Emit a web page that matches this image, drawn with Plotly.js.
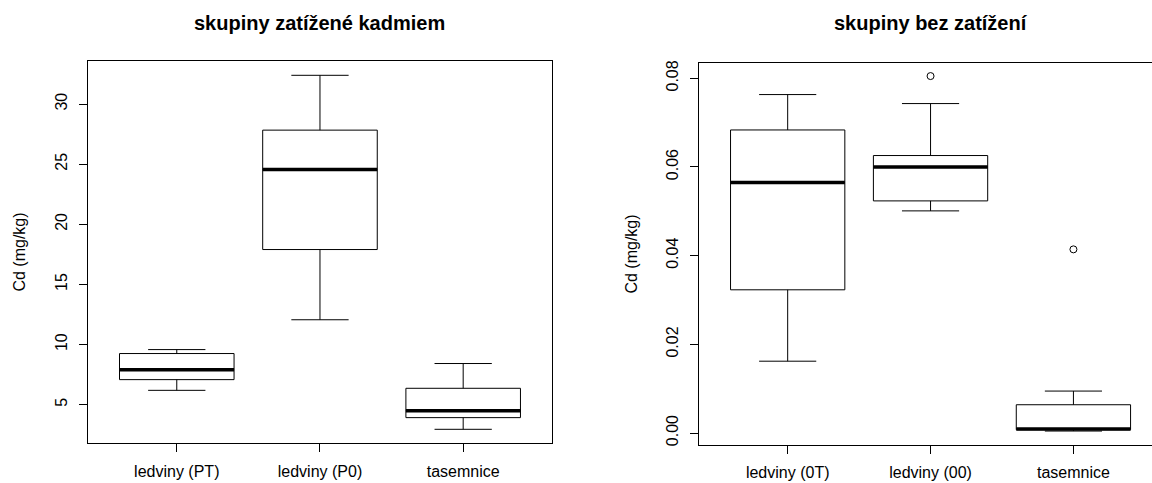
<!DOCTYPE html>
<html>
<head>
<meta charset="utf-8">
<script src="https://cdn.plot.ly/plotly-3.0.1.min.js"></script>
<style>
html, body { margin: 0; padding: 0; overflow: hidden; background: #fff; width: 1152px; height: 483px; }
#chart { width: 1162px; height: 483px; }
</style>
</head>
<body>
<div id="chart"></div>
<script>
// ---- Left panel: groups loaded with cadmium ----
const catsLeft = ["ledviny (PT)", "ledviny (P0)", "tasemnice"];
const lowLeft = [6.19, 12.06, 2.95];
const q1Left = [7.08, 17.9, 3.92];
const medLeft = [7.9, 24.56, 4.5];
const q3Left = [9.25, 27.83, 6.36];
const highLeft = [9.58, 32.39, 8.42];

// ---- Right panel: groups without load ----
const catsRight = ["ledviny (0T)", "ledviny (00)", "tasemnice"];
const lowRight = [0.0162, 0.0501, 0.00045];
const q1Right = [0.0323, 0.05235, 0.00075];
const medRight = [0.0565, 0.0600, 0.0009];
const q3Right = [0.06835, 0.06258, 0.00638];
const highRight = [0.07633, 0.0743, 0.00946];
const outlierCatsRight = ["ledviny (00)", "tasemnice"];
const outlierValsRight = [0.0805, 0.04142];

const titleLeft = "skupiny zatížené kadmiem";
const titleRight = "skupiny bez zatížení";
const yTitle = "Cd (mg/kg)";

const FONT = "Liberation Sans, Arial, Helvetica, sans-serif";

function boxTrace(cats, lo, q1, med, q3, hi, xa, ya) {
  return {
    type: "box", x: cats, q1: q1, median: med, q3: q3,
    lowerfence: lo, upperfence: hi,
    xaxis: xa, yaxis: ya, width: 0.8, whiskerwidth: 0.5,
    fillcolor: "#ffffff", line: { color: "#000000", width: 1 },
    boxpoints: false, hoverinfo: "skip", showlegend: false
  };
}
function medianTrace(cats, med, xa, ya) {
  return {
    type: "box", x: cats, q1: med, median: med, q3: med,
    lowerfence: med, upperfence: med,
    xaxis: xa, yaxis: ya, width: 0.8, whiskerwidth: 0,
    fillcolor: "rgba(0,0,0,0)", line: { color: "#000000", width: 3.5 },
    boxpoints: false, hoverinfo: "skip", showlegend: false
  };
}

const data = [
  boxTrace(catsLeft, lowLeft, q1Left, medLeft, q3Left, highLeft, "x", "y"),
  medianTrace(catsLeft, medLeft, "x", "y"),
  boxTrace(catsRight, lowRight, q1Right, medRight, q3Right, highRight, "x2", "y2"),
  medianTrace(catsRight, medRight, "x2", "y2"),
  {
    type: "scatter", mode: "markers", x: outlierCatsRight, y: outlierValsRight,
    xaxis: "x2", yaxis: "y2",
    marker: { symbol: "circle-open", size: 7, color: "#000000", line: { width: 1, color: "#000000" } },
    hoverinfo: "skip", showlegend: false
  }
];

const tickFont = { family: FONT, size: 16, color: "#000000" };

function xAxis(domain, cats, standoff) {
  return {
    domain: domain, type: "category", categoryorder: "array", categoryarray: cats,
    range: [-0.62, 2.62], showline: true, mirror: true, linecolor: "#000000", linewidth: 1,
    ticks: "outside", ticklen: 8, tickwidth: 1, tickcolor: "#000000",
    tickfont: tickFont, ticklabelstandoff: standoff, showgrid: false, zeroline: false, fixedrange: true
  };
}
function yAxis(domain, range, dtick, fmt, anchor) {
  return {
    domain: domain, anchor: anchor, range: range, dtick: dtick, tick0: 0, tickformat: fmt,
    showline: true, mirror: true, linecolor: "#000000", linewidth: 1,
    ticks: "outside", ticklen: 8, tickwidth: 1, tickcolor: "#000000",
    tickangle: -90, tickfont: tickFont, ticklabelstandoff: 6,
    showgrid: false, zeroline: false, fixedrange: true,
    title: { text: yTitle, font: { family: FONT, size: 16, color: "#000000" }, standoff: 22 }
  };
}

const layout = {
  width: 1162, height: 483,
  margin: { l: 88, r: 0, t: 61, b: 38 },
  paper_bgcolor: "#ffffff", plot_bgcolor: "#ffffff",
  showlegend: false, hovermode: false,
  font: { family: FONT, color: "#000000" },
  xaxis: Object.assign(xAxis([0, 0.432], catsLeft, 6), { anchor: "y" }),
  yaxis: yAxis([0.0052, 1], [1.81, 33.58], 5, "d", "x"),
  xaxis2: Object.assign(xAxis([0.569, 1], catsRight, 5), { anchor: "y2" }),
  yaxis2: yAxis([0, 0.9948], [-0.0027, 0.08345], 0.02, ".2f", "x2"),
  annotations: [
    { text: "<b>" + titleLeft + "</b>", xref: "paper", yref: "paper", x: 0.216, y: 1 + 38 / 384,
      xanchor: "center", yanchor: "middle", showarrow: false, font: { family: FONT, size: 20, color: "#000000" } },
    { text: "<b>" + titleRight + "</b>", xref: "paper", yref: "paper", x: 0.7845, y: 1 + 38 / 384,
      xanchor: "center", yanchor: "middle", showarrow: false, font: { family: FONT, size: 20, color: "#000000" } }
  ]
};

Plotly.newPlot("chart", data, layout, { staticPlot: true, displayModeBar: false });
</script>
</body>
</html>
